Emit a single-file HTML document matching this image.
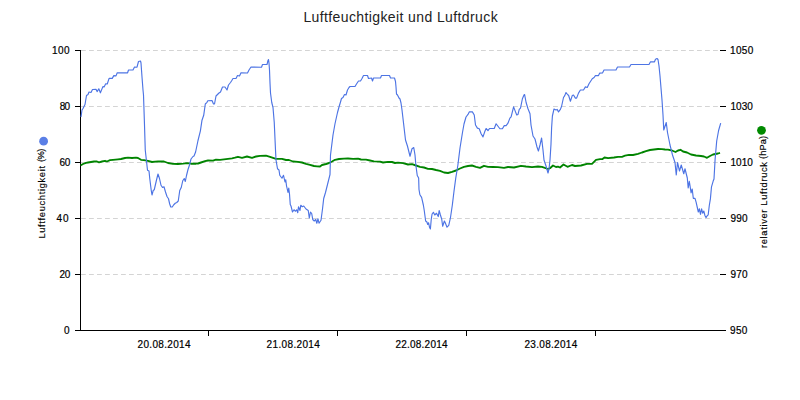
<!DOCTYPE html>
<html><head><meta charset="utf-8"><style>
html,body{margin:0;padding:0;background:#fff;width:800px;height:400px;overflow:hidden}
svg{display:block}
text{font-family:"Liberation Sans", sans-serif;}
</style></head><body>
<svg width="800" height="400" viewBox="0 0 800 400">
<rect x="0" y="0" width="800" height="400" fill="#ffffff"/>
<path d="M81 50.5 H719" stroke="#d4d4d4" stroke-width="1" stroke-dasharray="4.8,3.2" fill="none"/>
<path d="M81 106.5 H719" stroke="#d4d4d4" stroke-width="1" stroke-dasharray="4.8,3.2" fill="none"/>
<path d="M81 162.5 H719" stroke="#d4d4d4" stroke-width="1" stroke-dasharray="4.8,3.2" fill="none"/>
<path d="M81 218.5 H719" stroke="#d4d4d4" stroke-width="1" stroke-dasharray="4.8,3.2" fill="none"/>
<path d="M81 274.5 H719" stroke="#d4d4d4" stroke-width="1" stroke-dasharray="4.8,3.2" fill="none"/>
<path d="M80.5 50 V331" stroke="#000" stroke-width="1" fill="none"/>
<path d="M80 330.5 H726" stroke="#000" stroke-width="1" fill="none"/>
<path d="M75 50.5 H80" stroke="#000" stroke-width="1"/>
<path d="M720 50.5 H726" stroke="#000" stroke-width="1"/>
<path d="M75 106.5 H80" stroke="#000" stroke-width="1"/>
<path d="M720 106.5 H726" stroke="#000" stroke-width="1"/>
<path d="M75 162.5 H80" stroke="#000" stroke-width="1"/>
<path d="M720 162.5 H726" stroke="#000" stroke-width="1"/>
<path d="M75 218.5 H80" stroke="#000" stroke-width="1"/>
<path d="M720 218.5 H726" stroke="#000" stroke-width="1"/>
<path d="M75 274.5 H80" stroke="#000" stroke-width="1"/>
<path d="M720 274.5 H726" stroke="#000" stroke-width="1"/>
<path d="M75 330.5 H80" stroke="#000" stroke-width="1"/>
<path d="M720 330.5 H726" stroke="#000" stroke-width="1"/>
<path d="M208.5 330 V336" stroke="#000" stroke-width="1"/>
<path d="M337.5 330 V336" stroke="#000" stroke-width="1"/>
<path d="M466.5 330 V336" stroke="#000" stroke-width="1"/>
<path d="M595.5 330 V336" stroke="#000" stroke-width="1"/>
<polyline points="80.5,165.5 83,164 86,162.8 88,162.5 91,162 94,161.5 97,161.5 99,162.3 102,161.5 105,160.8 107,161.5 110,160.2 113,159.8 118,159.3 121,159 125,158 128,157.7 132,158 136,157.7 138,158 141,159.8 144,160.2 148,160.8 152,162 155,161.7 158,161.5 164,161.5 168,163 173,163.8 178,164 183,163.7 187,163.2 191,163.7 196,163.7 198,163.5 201,162.5 205,161.2 208,160.5 213,160.7 216,159.7 220,159.8 224,159.3 228,158.8 232,158.3 235,157.7 238,156.8 242,157.8 247,156.5 252,157.8 256,156.5 260,155.8 266,155.7 270,156.8 273,157.8 276,158.8 282,158.8 286,160 289,160 293,161.5 298,161.8 302,162.5 306,163.8 310,164.8 314,166 317,166.3 320,166.5 322,165 326,164 329,163 332,161.5 335,159.8 339,159 344,158.7 348,158.5 353,158.8 358,158.7 361,159.5 366,159.7 370,160.5 374,161.3 380,161.7 383,162.5 388,161.8 392,162 395,163 398,162.6 403,163.2 408,164.5 412,164.2 416,165.5 420,166.8 424,167.5 428,168.8 432,169 436,170 440,170.8 444,172.5 448,173 452,171.8 456,170.5 460,168.5 464,166.8 468,166 472,165.5 476,166.8 480,167.8 484,165.8 488,166.8 493,167 498,167.2 504,167.8 508,167 514,167.5 521,165.8 526,166.5 532,167.2 538,166.5 542,166.8 548,169 550,168.2 553,165.5 556,167 558,166.6 560,167.5 563.5,164.5 567.5,166.8 572,165 575,166 581,165.5 587,163.8 592,163.8 596,159.8 600,159.2 602.5,159 604.5,157.5 608,158.2 614,157.5 618,156.8 622,156.8 625,155.7 629,154.8 633,155 638,153.9 642,152.5 646,151.2 650,150 654,149.5 658,149 662,149.2 665,149.5 668,149.7 672,150.5 675.5,152 678,150.5 680.5,149.8 683,151.5 687,152.5 691,154.5 696,155.5 701,156 704,156.5 707,157.8 710,156 713,154.5 718,153.5 720,152.8" fill="none" stroke="#008400" stroke-width="1.85" stroke-linejoin="round"/>
<polyline points="81,117 82,110 83,108.5 85,104.5 86.5,95.5 88,94.5 89,92 91,92.5 92.5,89.5 96,89.4 97.25,91.6 98.8,88.75 100.4,92.8 102.9,86.6 104.1,86.9 105.7,83.75 107.25,84 109.1,78.4 112.25,78.4 113.8,75.6 116,75.9 117.25,72.8 127.6,72.8 128.5,70 133,70 134.5,67 137,67.2 138.5,61.5 140.5,61 141,63 142,77 143,90 143.5,95 144.5,125 145.25,150 146.75,163.5 147.5,170.25 149,171 149.75,178.5 151.25,190.5 152,195 153.2,190.5 154.25,189.75 156.5,180 158,174 159.5,178.5 161,185.25 162.5,187.5 164,186.75 165.5,192 167,196.5 168.5,198.75 169.7,204 170.75,207 172.25,207 173.75,204.75 175.25,203.25 176.75,202.5 178.25,201 179.75,190.5 181.25,187.5 182.75,180.75 184.25,178.5 185.3,181.5 186.5,175.5 188,169.5 189.5,165 191,159 193,156.5 194,156 195.6,152 198,140.5 200.4,130.8 202,120.2 203.7,115.3 205.3,104 207,102.3 207.8,100.7 212,100.5 213.5,104 214.5,104 216,96 217.5,94.5 219,93 220.5,92 222.5,87 225,87 227,90 228.5,85 230.5,82.5 231.5,81 233,78.5 236,78.5 237.5,75.5 239.5,76 241,72.8 247.5,73 249,70 251,67 261.5,67.2 262.5,64.5 267,64.5 268,60.5 268.5,59.5 269,63 269.5,70 270,83 270.5,93 271.75,102.5 273,107.5 274.25,122.5 275.5,150 276,160 277.5,168.75 279,170 279.75,175.25 282,178.25 283.5,175.25 285,182 285.75,179.75 286.5,185.75 288,192.5 288.75,188 289.5,194 290.25,204.5 291,206 292.5,212 294,209.75 295.5,211.25 296.7,209.75 297.75,212.75 298.5,206.75 300,210.5 300.75,205.25 302.25,206.75 303.75,206 306,209 308.25,210.5 309.3,218 310.5,212 311.7,213.5 312.75,219.5 314.25,221 315.75,219.5 316.8,223.25 318,218.75 319,223.25 321,220.25 322.5,209 323.7,198.5 325.5,192.5 327.75,183.5 330,174.5 330.5,155 333,135 335,123.75 337.5,112.5 339,107 340.5,102 341.5,98.5 343,97.5 344.5,94.5 346,95 347.5,90 349,87.5 350,86.5 355,86.5 356.5,84 358.5,81 360.5,81 362,78.5 363.5,75.5 367.5,75.5 368.5,78.5 371.5,78 372.5,81 373.5,78 380.5,78 381.5,75.5 389.5,75.5 390.5,78 394.5,78 395.5,81.5 396,87 396.5,94 397.5,95 399,98 400,99 401,103 402,110 403.75,125 405.5,140 407.5,146.25 410,156.25 412,148.75 413.75,147.5 415,155 415.85,165 417.25,175.5 418.65,178 419,189.5 419.9,194.75 421.6,197.4 423.4,205.25 424.25,210.5 425.65,221 426.9,222 427.75,224.5 428.6,222.75 429.5,227.2 430.4,229 431.25,219.25 432.1,214 433.4,212.25 434.75,215 436.5,213.25 438.25,216.6 439.15,210.5 440.4,215 441.75,219.25 442.65,226.25 444.4,221 445.25,222.75 447,227.2 448.75,225.4 450.5,217.5 452.3,205.25 454,191.25 455.75,178.1 457.9,165 460,148 462.4,133 464,124 466,117 468,114.4 469.25,111.9 472.4,111.9 474.25,115 475.5,125 477.4,128.1 479.25,128.75 481.1,133.75 483,136.9 484.9,131.25 486.1,128.5 488,130.6 489.5,128.5 494.25,128.5 496.1,123.75 498,126.25 499.9,128.75 502.4,128.75 504.25,125.6 506.1,125.6 508,123.1 509.9,118.1 511.1,116.9 513.6,106.9 515.5,111.9 516.75,115 518,114.4 519.25,109.4 520.5,108.1 522.4,98.75 524,95 524.6,94.5 526.1,102.5 528,108.75 530,113.75 531,125 533,136 535,139 537,147 538.4,151 540,145 541.6,138 543,150 544,160 546,166 548,173 549,169 550,160 551,144 551.6,128 552.4,116 554,109 556,110 557.25,109.4 558.5,111.9 560.4,109.4 561.6,106.25 563.5,97.5 564.75,95.6 566,92.5 567.9,95 568.5,95 570.4,101.25 572.25,95.6 573.5,95 575.4,98.1 576.6,98.1 578.5,93.1 580.4,90 583.5,90 585.4,86.9 587.25,87.5 589,83.75 592.25,78.75 594.1,77.5 595.4,75.6 598.5,75.6 599.75,73.1 602.5,73 604,70 616,70 617.5,67 629.5,67 631,64.5 649,64.5 650.5,61.8 654.5,61.8 655.5,59.2 657,58.5 658,59.5 659,66 660,76 661,88 662,100 663,115 663.75,130 666.25,122.5 667.5,132.5 670,145 672.5,155 675,162.5 676.25,175 677.5,162.5 679.5,171 681.25,165 683.75,173.75 685,168.75 687.3,178 688.2,187.9 689.3,181.3 690,185.7 691.1,192.8 692.2,189 693.3,198.3 695,198.3 696.1,202.2 698.3,212 699.4,208.8 700.5,214.3 701.6,208.8 702.7,213.2 703.8,211 704.9,215.4 706,217.6 707.1,215.9 708.2,214.8 709.3,205.5 710.4,198.9 711.5,186.8 713.1,181.3 714,179 715.1,159.4 716.7,141 718.6,130.5 720.7,123.1" fill="none" stroke="#4d74e4" stroke-width="1.15" stroke-linejoin="round"/>
<circle cx="43.6" cy="141.2" r="4.4" fill="#5a7fe6"/>
<circle cx="761.5" cy="130.3" r="4.4" fill="#008a00"/>
<text x="303.400" y="22.400" font-size="14" font-weight="normal" fill="#222" textLength="194.233" lengthAdjust="spacing">Luftfeuchtigkeit und Luftdruck</text>
<text x="52.000" y="54.000" font-size="10" font-weight="normal" fill="#000" stroke="#000" stroke-width="0.2" textLength="17.478" lengthAdjust="spacing">100</text>
<text x="59.800" y="110.000" font-size="10" font-weight="normal" fill="#000" stroke="#000" stroke-width="0.2" textLength="10.351" lengthAdjust="spacing">80</text>
<text x="59.500" y="166.000" font-size="10" font-weight="normal" fill="#000" stroke="#000" stroke-width="0.2" textLength="10.810" lengthAdjust="spacing">60</text>
<text x="56.600" y="222.000" font-size="10" font-weight="normal" fill="#000" stroke="#000" stroke-width="0.2" textLength="11.961" lengthAdjust="spacing">40</text>
<text x="59.500" y="277.500" font-size="10" font-weight="normal" fill="#000" stroke="#000" stroke-width="0.2" textLength="10.810" lengthAdjust="spacing">20</text>
<text x="64.000" y="334.000" font-size="10" font-weight="normal" fill="#000" stroke="#000" stroke-width="0.2" textLength="0.005" lengthAdjust="spacing">0</text>
<text x="730.000" y="54.000" font-size="10" font-weight="normal" fill="#000" stroke="#000" stroke-width="0.2" textLength="23.309" lengthAdjust="spacing">1050</text>
<text x="730.400" y="110.000" font-size="10" font-weight="normal" fill="#000" stroke="#000" stroke-width="0.2" textLength="22.511" lengthAdjust="spacing">1030</text>
<text x="730.400" y="166.000" font-size="10" font-weight="normal" fill="#000" stroke="#000" stroke-width="0.2" textLength="22.511" lengthAdjust="spacing">1010</text>
<text x="730.400" y="222.000" font-size="10" font-weight="normal" fill="#000" stroke="#000" stroke-width="0.2" textLength="17.080" lengthAdjust="spacing">990</text>
<text x="730.400" y="278.000" font-size="10" font-weight="normal" fill="#000" stroke="#000" stroke-width="0.2" textLength="17.080" lengthAdjust="spacing">970</text>
<text x="730.000" y="334.000" font-size="10" font-weight="normal" fill="#000" stroke="#000" stroke-width="0.2" textLength="17.427" lengthAdjust="spacing">950</text>
<text x="137.500" y="347.500" font-size="10" font-weight="normal" fill="#000" stroke="#000" stroke-width="0.2" textLength="53.078" lengthAdjust="spacing">20.08.2014</text>
<text x="266.600" y="347.500" font-size="10" font-weight="normal" fill="#000" stroke="#000" stroke-width="0.2" textLength="53.206" lengthAdjust="spacing">21.08.2014</text>
<text x="395.400" y="347.500" font-size="10" font-weight="normal" fill="#000" stroke="#000" stroke-width="0.2" textLength="52.165" lengthAdjust="spacing">22.08.2014</text>
<text x="524.500" y="347.500" font-size="10" font-weight="normal" fill="#000" stroke="#000" stroke-width="0.2" textLength="52.706" lengthAdjust="spacing">23.08.2014</text>
<text transform="translate(44.500,238.600) rotate(-90)" x="0" y="0" font-size="9.3" fill="#000" stroke="#000" stroke-width="0.15" textLength="72.608" lengthAdjust="spacing">Luftfeuchtigkeit</text>
<text transform="translate(44.000,162.000) rotate(-90)" x="0" y="0" font-size="9.3" fill="#000" stroke="#000" stroke-width="0.15" textLength="13.275" lengthAdjust="spacing">(%)</text>
<text transform="translate(767.000,248.000) rotate(-90)" x="0" y="0" font-size="9.3" fill="#000" stroke="#000" stroke-width="0.15" textLength="86.009" lengthAdjust="spacing">relativer Luftdruck</text>
<text transform="translate(766.000,159.000) rotate(-90)" x="0" y="0" font-size="9.3" fill="#000" stroke="#000" stroke-width="0.15" textLength="23.034" lengthAdjust="spacing">(hPa)</text>
</svg>
</body></html>
